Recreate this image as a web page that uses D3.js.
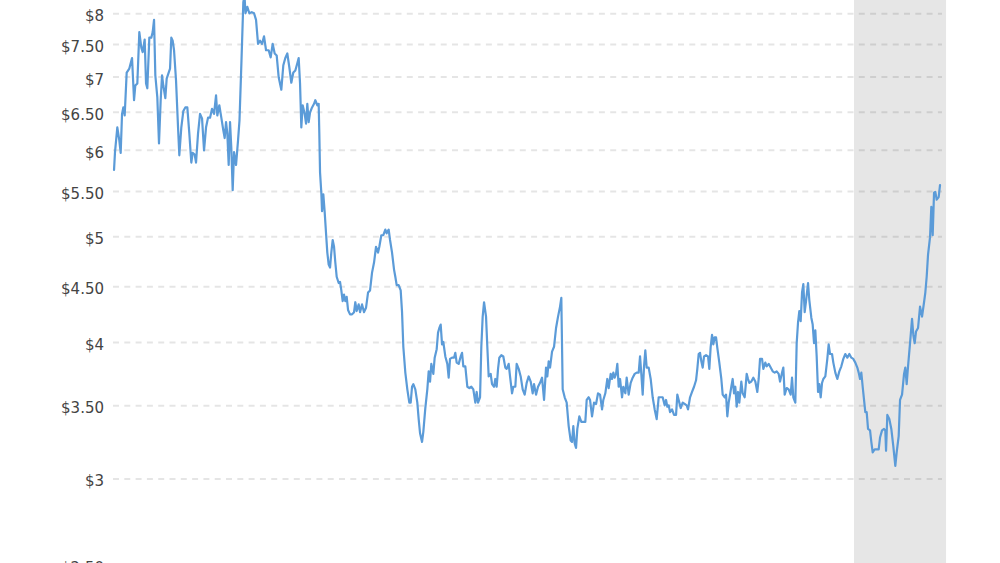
<!DOCTYPE html>
<html>
<head>
<meta charset="utf-8">
<script src="https://cdn.jsdelivr.net/npm/d3@7"></script>
<style>
  html, body { margin: 0; padding: 0; background: #fff; overflow: hidden; }
  svg { display: block; }
</style>
</head>
<body>
<svg id="chart" width="1000" height="563"></svg>
<script>
// Decimal-year positions of each sample and the price read at that sample (USD)
const years = [
2011.013,2011.025,2011.054,2011.079,2011.096,2011.113,2011.129,2011.146,2011.171,2011.204,
2011.238,2011.263,2011.279,2011.304,2011.329,2011.354,2011.371,2011.396,2011.413,2011.429,
2011.454,2011.479,2011.496,2011.513,2011.529,2011.554,2011.575,2011.596,2011.613,2011.629,
2011.654,2011.671,2011.696,2011.713,2011.729,2011.746,2011.763,2011.788,2011.813,2011.829,
2011.854,2011.879,2011.904,2011.929,2011.954,2011.979,2011.996,2012.021,2012.038,2012.063,
2012.088,2012.113,2012.138,2012.163,2012.188,2012.213,2012.238,2012.263,2012.288,2012.304,
2012.329,2012.354,2012.379,2012.396,2012.413,2012.429,2012.446,2012.463,2012.479,2012.496,
2012.513,2012.538,2012.563,2012.581,2012.606,2012.629,2012.644,2012.656,2012.679,2012.704,
2012.734,2012.763,2012.788,2012.813,2012.838,2012.863,2012.888,2012.913,2012.946,2012.971,
2012.996,2013.021,2013.046,2013.071,2013.104,2013.129,2013.154,2013.179,2013.204,2013.229,
2013.254,2013.279,2013.304,2013.321,2013.338,2013.354,2013.371,2013.396,2013.413,2013.429,
2013.446,2013.463,2013.488,2013.513,2013.529,2013.554,2013.571,2013.579,2013.588,2013.604,
2013.613,2013.629,2013.646,2013.663,2013.679,2013.696,2013.713,2013.729,2013.746,2013.763,
2013.779,2013.796,2013.821,2013.838,2013.854,2013.871,2013.888,2013.904,2013.921,2013.938,
2013.963,2013.988,2014.013,2014.029,2014.046,2014.071,2014.088,2014.113,2014.138,2014.163,
2014.188,2014.213,2014.238,2014.263,2014.288,2014.313,2014.329,2014.354,2014.379,2014.404,
2014.421,2014.446,2014.463,2014.488,2014.513,2014.529,2014.546,2014.571,2014.596,2014.613,
2014.629,2014.654,2014.679,2014.704,2014.721,2014.738,2014.754,2014.779,2014.804,2014.821,
2014.838,2014.863,2014.879,2014.904,2014.929,2014.946,2014.963,2014.979,2015.004,2015.021,
2015.046,2015.063,2015.079,2015.096,2015.113,2015.129,2015.154,2015.179,2015.196,2015.213,
2015.238,2015.263,2015.279,2015.296,2015.321,2015.346,2015.363,2015.379,2015.404,2015.429,
2015.454,2015.479,2015.504,2015.529,2015.546,2015.563,2015.588,2015.604,2015.621,2015.638,
2015.663,2015.679,2015.696,2015.721,2015.738,2015.763,2015.779,2015.796,2015.813,2015.829,
2015.854,2015.879,2015.904,2015.921,2015.946,2015.963,2015.988,2016.004,2016.029,2016.046,
2016.071,2016.096,2016.121,2016.146,2016.171,2016.196,2016.221,2016.246,2016.263,2016.288,
2016.313,2016.338,2016.363,2016.388,2016.413,2016.429,2016.446,2016.463,2016.488,2016.513,
2016.538,2016.563,2016.588,2016.604,2016.621,2016.646,2016.671,2016.696,2016.721,2016.738,
2016.754,2016.771,2016.788,2016.804,2016.829,2016.854,2016.879,2016.904,2016.921,2016.946,
2016.963,2016.988,2017.013,2017.038,2017.063,2017.088,2017.113,2017.129,2017.154,2017.179,
2017.196,2017.221,2017.238,2017.254,2017.271,2017.288,2017.304,2017.321,2017.338,2017.363,
2017.379,2017.404,2017.421,2017.446,2017.471,2017.496,2017.521,2017.546,2017.571,2017.588,
2017.604,2017.621,2017.638,2017.654,2017.671,2017.696,2017.721,2017.746,2017.771,2017.796,
2017.821,2017.846,2017.871,2017.896,2017.913,2017.929,2017.946,2017.963,2017.988,2018.013,
2018.038,2018.054,2018.079,2018.096,2018.121,2018.146,2018.171,2018.188,2018.213,2018.238,
2018.263,2018.288,2018.304,2018.321,2018.338,2018.354,2018.371,2018.388,2018.413,2018.438,
2018.454,2018.471,2018.488,2018.504,2018.521,2018.538,2018.554,2018.579,2018.604,2018.621,
2018.646,2018.663,2018.679,2018.696,2018.713,2018.729,2018.746,2018.763,2018.779,2018.796,
2018.813,2018.829,2018.854,2018.871,2018.896,2018.921,2018.938,2018.954,2018.979,2019.004,
2019.029,2019.054,2019.071,2019.088,2019.113,2019.129,2019.154,2019.171,2019.196,2019.221,
2019.246,2019.271,2019.296,2019.321,2019.338,2019.363,2019.379,2019.396,2019.421,2019.446,
2019.471,2019.488,2019.504,2019.529,2019.546,2019.563,2019.579,2019.596,2019.613,2019.629,
2019.646,2019.663,2019.688,2019.704,2019.729,2019.746,2019.763,2019.779,2019.796,2019.813,
2019.829,2019.846,2019.863,2019.879,2019.904,2019.929,2019.946,2019.963,2019.988,2020.004,
2020.029,2020.054,2020.079,2020.104,2020.129,2020.154,2020.179,2020.204,2020.229,2020.254,
2020.279,2020.304,2020.321,2020.338,2020.354,2020.371,2020.388,2020.404,2020.421,2020.438,
2020.463,2020.479,2020.496,2020.521,2020.546,2020.571,2020.588,2020.613,2020.638,2020.654,
2020.663,2020.679,2020.704,2020.729,2020.754,2020.779,2020.796,2020.821,2020.838,2020.863,
2020.888,2020.904,2020.921,2020.938,2020.963,2020.988,2021.004,2021.021,2021.038,2021.063,
2021.088,2021.113,2021.138,2021.154,2021.171,2021.188,2021.213,2021.229,2021.246,2021.263,
2021.279,2021.296,2021.321,2021.338
];

const prices = [
5.75,5.97,6.29,6.12,5.96,6.47,6.56,6.45,7.06,7.12,
7.28,6.66,6.87,6.90,7.69,7.44,7.37,7.57,6.90,6.83,
7.60,7.60,7.69,7.89,7.02,6.70,6.08,6.66,7.02,6.87,
6.69,6.97,7.06,7.12,7.60,7.55,7.40,6.94,6.29,5.93,
6.29,6.51,6.56,6.56,6.21,5.84,5.96,5.94,5.84,6.21,
6.47,6.41,5.99,6.29,6.42,6.42,6.54,6.47,6.73,6.45,
6.59,6.42,6.25,6.15,6.36,6.21,5.81,6.36,6.02,5.51,
5.97,5.81,6.12,6.38,7.24,8.19,8.30,8.00,8.11,8.00,
8.02,8.00,7.89,7.50,7.55,7.50,7.62,7.40,7.40,7.29,
7.50,7.35,7.32,6.99,6.81,7.17,7.28,7.35,7.14,6.91,
7.06,7.09,7.20,7.28,6.90,6.29,6.59,6.47,6.34,6.61,
6.36,6.49,6.56,6.61,6.66,6.59,6.61,6.21,5.72,5.48,
5.27,5.46,5.26,5.03,4.83,4.71,4.68,4.83,4.96,4.89,
4.73,4.59,4.53,4.54,4.46,4.36,4.42,4.36,4.40,4.28,
4.24,4.24,4.26,4.35,4.27,4.33,4.26,4.33,4.26,4.30,
4.44,4.46,4.63,4.73,4.89,4.83,4.89,5.01,5.01,5.07,
5.03,5.07,4.96,4.83,4.66,4.59,4.51,4.51,4.46,4.26,
3.96,3.75,3.62,3.52,3.52,3.64,3.66,3.62,3.52,3.40,
3.30,3.24,3.31,3.48,3.62,3.76,3.68,3.82,3.74,3.87,
3.94,4.08,4.12,4.15,3.98,4.00,3.88,3.82,3.71,3.86,
3.87,3.87,3.91,3.83,3.82,3.88,3.91,3.80,3.80,3.64,
3.63,3.64,3.62,3.52,3.60,3.52,3.56,3.96,4.22,4.35,
4.22,3.96,3.72,3.74,3.66,3.64,3.70,3.64,3.78,3.87,
3.89,3.88,3.79,3.78,3.82,3.72,3.59,3.64,3.64,3.82,
3.78,3.72,3.62,3.58,3.67,3.72,3.68,3.59,3.66,3.58,
3.64,3.67,3.71,3.54,3.79,3.72,3.84,3.79,3.92,3.96,
4.12,4.22,4.31,4.39,3.62,3.56,3.52,3.35,3.25,3.24,
3.35,3.23,3.20,3.33,3.42,3.38,3.38,3.38,3.54,3.56,
3.54,3.42,3.52,3.51,3.59,3.58,3.47,3.54,3.59,3.70,
3.63,3.74,3.70,3.75,3.71,3.74,3.82,3.64,3.70,3.56,
3.64,3.59,3.71,3.58,3.67,3.71,3.74,3.75,3.75,3.88,
3.74,3.58,3.80,3.93,3.79,3.79,3.70,3.56,3.47,3.40,
3.56,3.56,3.56,3.50,3.54,3.49,3.50,3.45,3.47,3.43,
3.43,3.58,3.52,3.48,3.52,3.51,3.50,3.47,3.56,3.60,
3.64,3.69,3.78,3.90,3.91,3.84,3.79,3.88,3.89,3.88,
3.78,3.96,4.06,3.98,4.04,4.04,3.95,3.83,3.70,3.58,
3.56,3.58,3.42,3.52,3.58,3.64,3.70,3.59,3.64,3.49,
3.60,3.52,3.68,3.59,3.56,3.74,3.70,3.67,3.68,3.71,
3.68,3.60,3.70,3.86,3.86,3.78,3.83,3.80,3.82,3.79,
3.76,3.75,3.76,3.74,3.68,3.75,3.79,3.58,3.63,3.62,
3.58,3.71,3.56,3.52,3.99,4.17,4.27,4.18,4.44,4.52,
4.26,4.36,4.53,4.37,4.21,4.15,3.99,4.10,3.88,3.60,
3.66,3.56,3.67,3.70,3.72,3.86,3.98,3.90,3.90,3.83,
3.75,3.70,3.76,3.80,3.86,3.90,3.87,3.90,3.87,3.86,
3.83,3.79,3.75,3.70,3.75,3.64,3.54,3.45,3.45,3.33,
3.32,3.24,3.17,3.19,3.19,3.19,3.27,3.32,3.33,3.32,
3.18,3.43,3.40,3.33,3.21,3.08,3.17,3.28,3.54,3.58,
3.74,3.79,3.66,3.80,3.99,4.20,4.06,3.99,4.09,4.12,
4.31,4.22,4.35,4.44,4.59,4.81,4.99,5.32,5.01,5.48,
5.49,5.40,5.43,5.57
];

// Shaded period (start, end) in decimal years
const shadedPeriod = [2020.263, 2021.413];

// Y-axis tick values and labels
const tickValues = [2.5, 3, 3.5, 4, 4.5, 5, 5.5, 6, 6.5, 7, 7.5, 8];
const tickLabels = ["$2.50", "$3", "$3.50", "$4", "$4.50", "$5", "$5.50", "$6", "$6.50", "$7", "$7.50", "$8"];

const data = years.map((t, i) => ({ t: t, p: prices[i] }));

const svg = d3.select("#chart");

const x = d3.scaleLinear()
  .domain([2011, 2021.3625])
  .range([113, 942]);

const y = d3.scaleLog()
  .domain([2.5, 8])
  .range([564.9, 13.3]);

// shaded band
svg.append("rect")
  .attr("x", x(shadedPeriod[0]))
  .attr("y", 0)
  .attr("width", x(shadedPeriod[1]) - x(shadedPeriod[0]))
  .attr("height", 563)
  .attr("fill", "#e6e6e6");

// gridlines + labels via axis
const yAxis = d3.axisLeft(y)
  .tickValues(tickValues)
  .tickSize(-(x.range()[1] - x.range()[0]))
  .tickPadding(9)
  .tickFormat((d, i) => tickLabels[i]);

const gAxis = svg.append("g")
  .attr("transform", `translate(${x.range()[0]},0)`)
  .call(yAxis);

gAxis.select(".domain").remove();
gAxis.selectAll(".tick line")
  .attr("stroke", "rgba(0,0,0,0.1)")
  .attr("stroke-width", 2)
  .attr("stroke-dasharray", "6,5.3");
gAxis.selectAll(".tick text")
  .attr("fill", "#444")
  .attr("font-family", "'DejaVu Sans', Verdana, sans-serif")
  .attr("font-size", "15px")
  .attr("dy", "0.5em");

// line
const line = d3.line()
  .x(d => x(d.t))
  .y(d => y(d.p))
  .curve(d3.curveLinear);

svg.append("path")
  .datum(data)
  .attr("fill", "none")
  .attr("stroke", "#5b9bd8")
  .attr("stroke-width", 2.2)
  .attr("stroke-linejoin", "round")
  .attr("stroke-linecap", "round")
  .attr("d", line);
</script>
</body>
</html>
